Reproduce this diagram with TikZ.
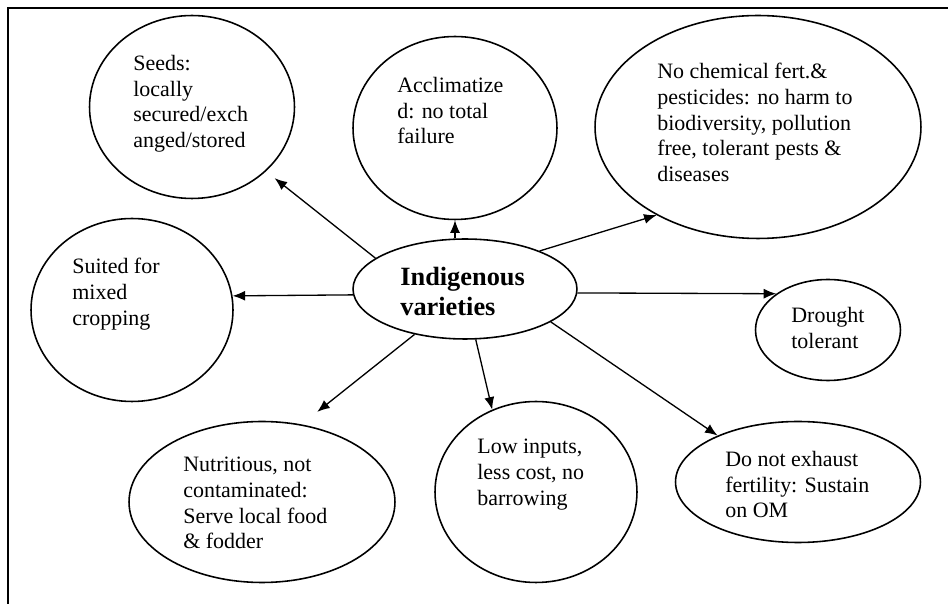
\documentclass[tikz,border=0pt]{standalone}
\usepackage{fontspec}
\setmainfont{Liberation Serif}
\usetikzlibrary{arrows.meta,shapes.geometric}

\begin{document}
\begin{tikzpicture}[x=0.02cm,y=-0.02cm,
    oval/.style={draw,ellipse,line width=0.9pt,inner sep=0pt},
    txt/.style={anchor=north west,inner sep=0pt,align=left,
      font=\fontsize{12.5}{14.6}\selectfont},
    arr/.style={-{Latex[length=2.5mm,width=2mm]},line width=0.75pt}]
  \useasboundingbox (0,0) rectangle (948,604);
  \draw [line width=1.1pt] (948,8) -- (8,8) -- (8,604);

  % the ovals
  \node [oval,minimum width=4.48cm,minimum height=2cm] (ind) at (465,289) {};
  \node [oval,minimum width=4.1cm,minimum height=3.66cm] (seeds) at (192,107) {};
  \node [oval,minimum width=4.08cm,minimum height=3.66cm] (accl) at (455,128) {};
  \node [oval,minimum width=6.52cm,minimum height=4.46cm] (chem) at (758,127) {};
  \node [oval,minimum width=4.04cm,minimum height=3.66cm] (suited) at (132,310) {};
  \node [oval,minimum width=2.9cm,minimum height=2.02cm] (drought) at (828,330) {};
  \node [oval,minimum width=5.32cm,minimum height=3.22cm] (nutr) at (262,502) {};
  \node [oval,minimum width=4.04cm,minimum height=3.62cm] (low) at (536,492) {};
  \node [oval,minimum width=4.9cm,minimum height=2.42cm] (fert) at (798,482) {};

  % the texts
  \node [txt,font=\bfseries\fontsize{15}{17}\selectfont] (indT) at (400,267) {Indigenous\\varieties};
  \node [txt] (seedsT) at (133,55) {Seeds:\\locally\\secured/exch\\anged/stored};
  \node [txt] (acclT) at (397,77) {Acclimatize\\d: no total\\failure};
  \node [txt] (chemT) at (657,63) {No chemical fert.\&\\pesticides: no harm to\\biodiversity, pollution\\free, tolerant pests \&\\diseases};
  \node [txt] (suitedT) at (72,258) {Suited for\\mixed\\cropping};
  \node [txt] (droughtT) at (791,307) {Drought\\tolerant};
  \node [txt] (nutrT) at (183,457) {Nutritious, not\\contaminated:\\Serve local food\\\& fodder};
  \node [txt] (lowT) at (477,439) {Low inputs,\\less cost, no\\barrowing};
  \node [txt] (fertT) at (725,451) {Do not exhaust\\fertility: Sustain\\on OM};

  % the arrows
  \draw [arr,shorten >=0.22cm] (ind.161) -- (seeds.-41);
  \draw [arr] (ind.north -| accl.south) -- (accl.south);
  \draw [arr] (ind.27) -- (chem.-139);
  \draw [arr] (ind.183) -- (suited.8);
  \draw [arr] (ind.-2) -- (drought.145);
  \draw [arr] (ind.-21) -- (fert.150);
  \draw [arr] (ind.-78) -- (low.118);
  \draw [arr,shorten >=0.4cm] (ind.-138) -- (nutr.63);
\end{tikzpicture}
\end{document}
